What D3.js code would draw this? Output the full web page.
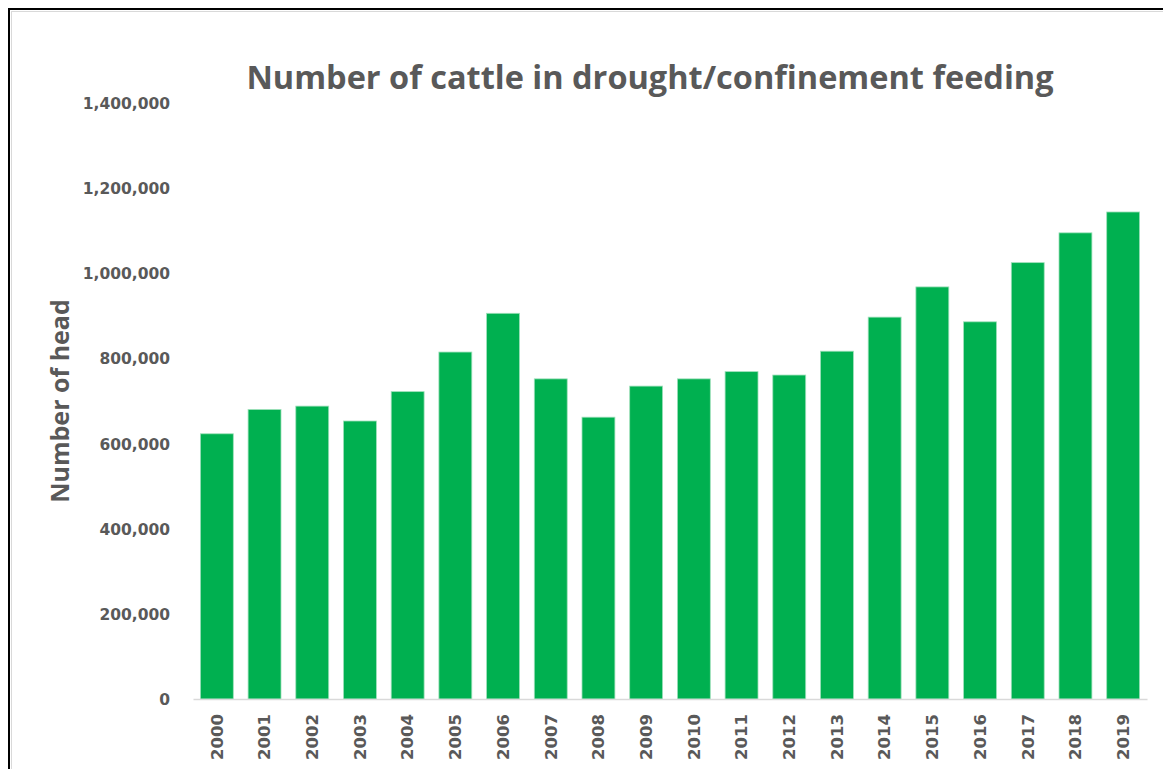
<!DOCTYPE html>
<html>
<head>
<meta charset="utf-8">
<script src="https://cdn.jsdelivr.net/npm/d3@7"></script>
<style>
  body { margin: 0; background: #fff; }
  text { font-family: "Open Sans", Lato, sans-serif; font-weight: bold; fill: #595959; }
  .tick text { font-family: "DejaVu Sans", sans-serif; }
</style>
</head>
<body>
<div id="chart"></div>
<script>
const years = ['2000', '2001', '2002', '2003', '2004', '2005', '2006', '2007', '2008', '2009',
  '2010', '2011', '2012', '2013', '2014', '2015', '2016', '2017', '2018', '2019'];
const cattle = [623000, 680000, 688000, 653000, 722000, 815000, 906000, 752000, 662000, 735000,
  752000, 769000, 761000, 817000, 897000, 968000, 886000, 1025000, 1095000, 1144000];
const yTicks = [0, 200000, 400000, 600000, 800000, 1000000, 1200000, 1400000];

const title = 'Number of cattle in drought/confinement feeding';
const yLabel = 'Number of head';

const width = 1163;
const height = 769;
const margin = { top: 103, right: 16, bottom: 70, left: 193 };

const svg = d3.select('#chart').append('svg')
  .attr('width', width)
  .attr('height', height);

// outer frame
svg.append('rect')
  .attr('x', 9).attr('y', 9)
  .attr('width', width + 20).attr('height', height + 20)
  .attr('fill', 'none')
  .attr('stroke', '#000')
  .attr('stroke-width', 2);
svg.append('rect')
  .attr('x', 11.5).attr('y', 11.5)
  .attr('width', width + 20).attr('height', height + 20)
  .attr('fill', 'none')
  .attr('stroke', '#d9d9d9')
  .attr('stroke-width', 1);

const x = d3.scaleBand()
  .domain(years)
  .range([margin.left, width - margin.right])
  .paddingInner(0.31)
  .paddingOuter(0.155);

const y = d3.scaleLinear()
  .domain([0, 1400000])
  .range([height - margin.bottom, margin.top]);

// y axis labels
const yAxis = svg.append('g')
  .attr('transform', `translate(${margin.left - 23}, 0)`)
  .call(d3.axisLeft(y).tickValues(yTicks).tickFormat(d3.format(',')).tickSize(0).tickPadding(0));
yAxis.select('.domain').remove();
yAxis.selectAll('text')
  .style('font-size', '15.5px')
  .attr('dy', '0.35em');

// bars
svg.append('g')
  .selectAll('rect')
  .data(cattle)
  .join('rect')
  .attr('x', (d, i) => x(years[i]))
  .attr('y', d => y(d))
  .attr('width', x.bandwidth())
  .attr('height', d => y(0) - y(d))
  .attr('fill', '#00b050')
  .attr('stroke', '#9fe0bb')
  .attr('stroke-width', 0.8);

// x axis
const xAxis = svg.append('g')
  .attr('transform', `translate(0, ${y(0)})`)
  .call(d3.axisBottom(x).tickSize(0).tickPadding(0));
xAxis.select('.domain')
  .attr('stroke', '#d9d9d9')
  .attr('stroke-width', 1.5);
xAxis.selectAll('text')
  .style('font-size', '16.5px')
  .attr('text-anchor', 'end')
  .attr('transform', 'translate(0, 15) rotate(-90)')
  .attr('x', 0)
  .attr('y', 0)
  .attr('dy', '0.35em');

// title
svg.append('text')
  .attr('x', 650)
  .attr('y', 89)
  .attr('text-anchor', 'middle')
  .style('font-size', '32.5px')
  .text(title);

// y label
svg.append('text')
  .attr('transform', `translate(60, 401) rotate(-90)`)
  .attr('text-anchor', 'middle')
  .attr('dy', '0.35em')
  .style('font-size', '25px')
  .text(yLabel);
</script>
</body>
</html>
